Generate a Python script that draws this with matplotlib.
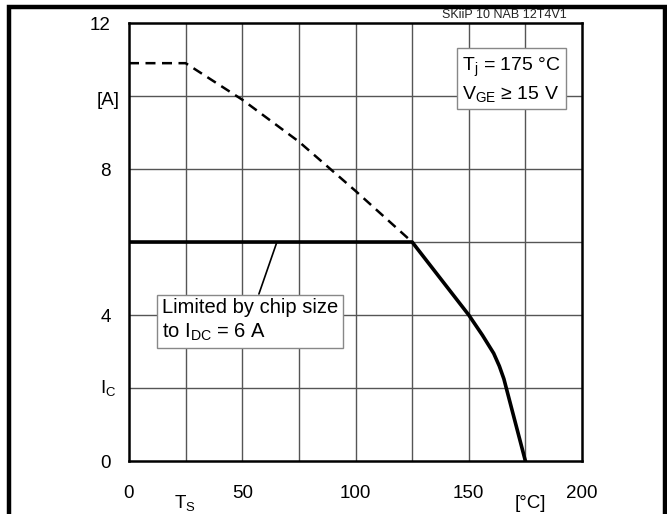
import matplotlib
matplotlib.use("Agg")
import matplotlib.pyplot as plt
from matplotlib.patches import Rectangle

plt.rcParams["font.family"] = ["Liberation Sans", "DejaVu Sans"]
plt.rcParams["mathtext.fontset"] = "custom"
plt.rcParams["mathtext.rm"] = "Liberation Sans"
plt.rcParams["mathtext.it"] = "Liberation Sans:italic"

# chip-limited current (solid) and theoretical rating (dashed)
ts_solid = [0, 125, 137.5, 150, 156, 161, 163.5, 165.5, 175]
ic_solid = [6, 6, 5.0, 4.0, 3.45, 2.95, 2.6, 2.25, 0]
ts_dashed = [0, 25, 50, 75, 100, 125]
ic_dashed = [10.9, 10.9, 9.9, 8.75, 7.4, 6.0]

x_ticks = [0, 50, 100, 150, 200]
y_ticks = [0, 4, 8, 12]

fig = plt.figure(figsize=(6.67, 5.14), dpi=100)
ax = fig.add_axes([0.1934, 0.1031, 0.6792, 0.8521])

ax.set_xlim(0, 200)
ax.set_ylim(0, 12)
for xv in range(25, 200, 25):
    ax.axvline(xv, color="#555555", lw=1.0, zorder=1)
for yv in range(2, 12, 2):
    ax.axhline(yv, color="#555555", lw=1.0, zorder=1)

ax.plot(ts_dashed, ic_dashed, color="black", lw=1.8, ls=(0, (4, 2.6)), zorder=3)
ax.plot(ts_solid, ic_solid, color="black", lw=2.6, zorder=4,
        solid_joinstyle="round")

ax.set_xticks(x_ticks)
ax.set_yticks(y_ticks)
ax.tick_params(length=0, labelsize=13.5, pad=13)
ax.tick_params(axis="x", pad=17)
for sp in ax.spines.values():
    sp.set_linewidth(1.8)

ax.text(0.124, -0.096, "T$_\\mathrm{S}$", transform=ax.transAxes, fontsize=13.5,
        ha="center", va="center")
ax.text(0.885, -0.096, "[°C]", transform=ax.transAxes, fontsize=13.5,
        ha="center", va="center")
ax.text(-0.046, 0.824, "[A]", transform=ax.transAxes, fontsize=13.5,
        ha="center", va="center")
ax.text(-0.046, 0.167, "I$_\\mathrm{C}$", transform=ax.transAxes, fontsize=13.5,
        ha="center", va="center")

box = dict(boxstyle="square,pad=0.25", fc="white", ec="#888888", lw=1.0)
ax.text(0.735, 0.87, "T$_\\mathrm{j}$ = 175 °C\nV$_\\mathrm{GE}$ ≥ 15 V",
        transform=ax.transAxes, fontsize=14, ha="left", va="center",
        linespacing=1.35, bbox=box, zorder=6)

ax.annotate("Limited by chip size\nto I$_\\mathrm{DC}$ = 6 A", xy=(65.3, 6),
            xytext=(0.072, 0.321), textcoords="axes fraction", fontsize=14.5,
            ha="left", va="center", linespacing=1.25, bbox=box, zorder=6,
            arrowprops=dict(arrowstyle="-", color="black", lw=1.2,
                            shrinkA=0, shrinkB=0))

fig.text(0.850, 0.9715, "SKiiP 10 NAB 12T4V1", fontsize=9, ha="right",
         va="center", color="#222222")

fig.add_artist(Rectangle((0.013, -0.02), 0.984, 1.006, transform=fig.transFigure,
                         fill=False, ec="black", lw=3.2))

fig.savefig("out.png", dpi=100)
